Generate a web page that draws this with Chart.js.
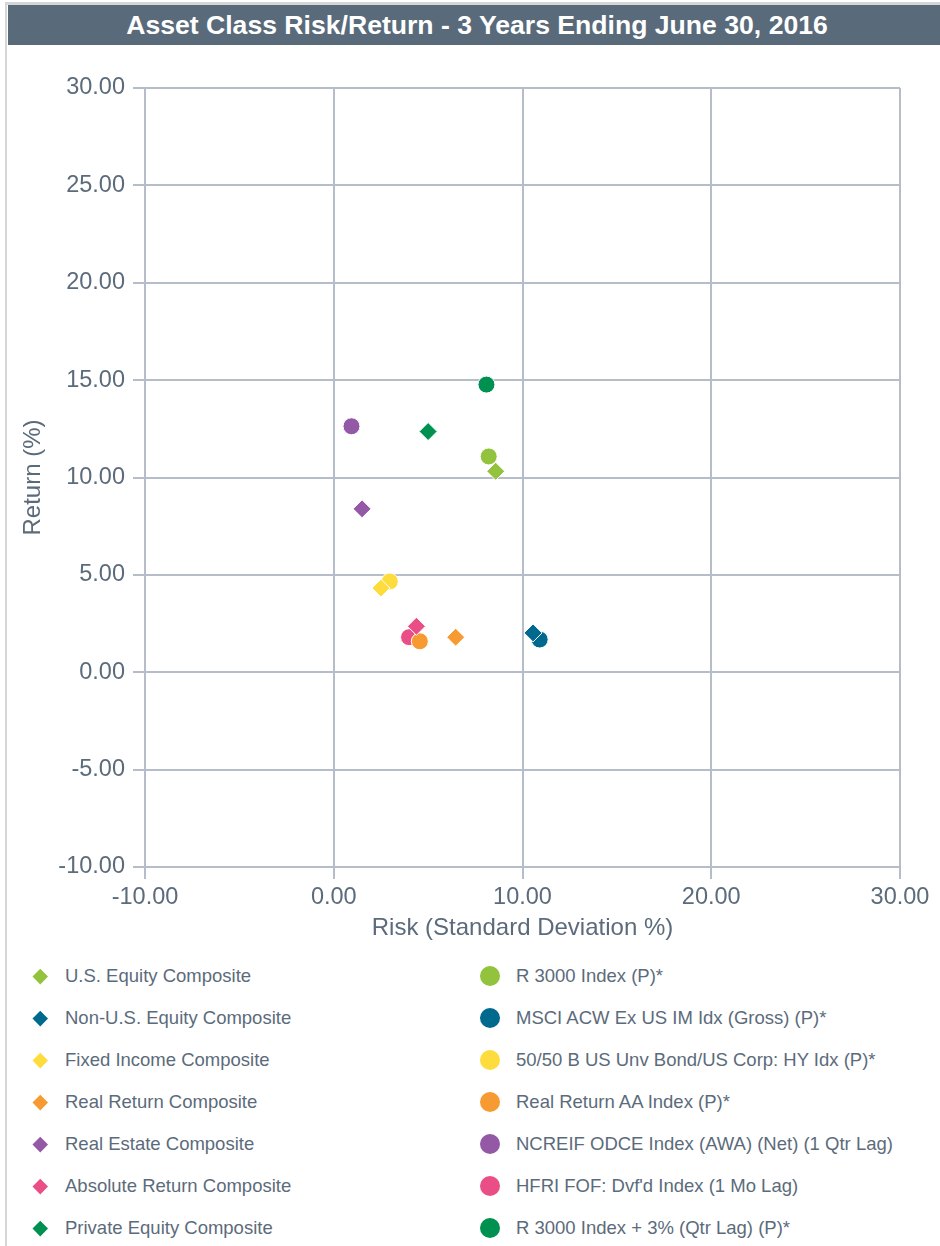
<!DOCTYPE html>
<html>
<head>
<meta charset="utf-8">
<script src="https://cdn.jsdelivr.net/npm/chart.js@4/dist/chart.umd.min.js"></script>
<style>
  html, body { margin: 0; padding: 0; background: #fff; }
  body { width: 940px; height: 1246px; position: relative; overflow: hidden;
         font-family: "Liberation Sans", Arial, sans-serif; }
  #frame { position: absolute; left: 5px; top: 2px; right: 0; bottom: 0;
           border-left: 2px solid #d6d6d6; border-top: 3px solid #d6d6d6; }
  #title { position: absolute; left: 8px; top: 5px; width: 926px; height: 40px; padding-left: 6px;
           background: #596a7b; color: #fff; font-weight: bold; font-size: 26.6px;
           line-height: 40px; text-align: center; }
  #box { position: absolute; left: 8px; top: 46px; width: 932px; height: 905px; }
  .item { position: absolute; height: 24px; line-height: 24px; font-size: 18.5px; color: #5b6b7b; white-space: nowrap; }
  .dia { position: absolute; width: 10.5px; height: 10.5px; transform: rotate(45deg); }
  .dot { position: absolute; width: 20px; height: 20px; border-radius: 50%; }
</style>
</head>
<body>
<div id="frame"></div>
<div id="title">Asset Class Risk/Return - 3 Years Ending June 30, 2016</div>
<div id="box"><canvas id="riskChart"></canvas></div>
<div id="legend"></div>
<script>
// composites (diamonds) and benchmark indices (circles)
const compositeNames = ['U.S. Equity Composite', 'Non-U.S. Equity Composite', 'Fixed Income Composite',
  'Real Return Composite', 'Real Estate Composite', 'Absolute Return Composite', 'Private Equity Composite'];
const compositeRisk = [8.58, 10.56, 2.50, 6.46, 1.50, 4.38, 5.00];
const compositeReturn = [10.32, 2.02, 4.32, 1.80, 8.39, 2.36, 12.36];

const indexNames = ['R 3000 Index (P)*', 'MSCI ACW Ex US IM Idx (Gross) (P)*', '50/50 B US Unv Bond/US Corp: HY Idx (P)*',
  'Real Return AA Index (P)*', 'NCREIF ODCE Index (AWA) (Net) (1 Qtr Lag)', 'HFRI FOF: Dvf\'d Index (1 Mo Lag)',
  'R 3000 Index + 3% (Qtr Lag) (P)*'];
const indexRisk = [8.21, 10.91, 2.97, 4.56, 0.94, 3.99, 8.09];
const indexReturn = [11.08, 1.68, 4.66, 1.59, 12.63, 1.80, 14.77];

const colors = ['#93c23d', '#006a8e', '#fedc3d', '#f89a32', '#9358a6', '#e94f86', '#00904f'];

const xTicks = [-10, 0, 10, 20, 30];
const yTicks = [-10, -5, 0, 5, 10, 15, 20, 25, 30];

const textColor = '#5b6b7b';
const gridColor = '#b5bec8';

let datasets = [];
compositeNames.forEach((name, i) => {
    datasets.push({
        label: name,
        data: [{ x: compositeRisk[i], y: compositeReturn[i] }],
        pointStyle: 'rectRot',
        backgroundColor: colors[i],
        borderColor: '#fff',
        borderWidth: 1,
        pointRadius: 9
    });
});
indexNames.forEach((name, i) => {
    datasets.push({
        label: name,
        data: [{ x: indexRisk[i], y: indexReturn[i] }],
        pointStyle: 'circle',
        backgroundColor: colors[i],
        borderColor: '#fff',
        borderWidth: 1,
        pointRadius: 8.5
    });
});

let ctx = document.getElementById('riskChart').getContext('2d');
let riskChart = new Chart(ctx, {
    type: 'scatter',
    data: { datasets: datasets },
    options: {
        responsive: true,
        maintainAspectRatio: false,
        animation: false,
        layout: { padding: { top: 42, right: 40, left: 0, bottom: 0 } },
        plugins: { legend: { display: false }, tooltip: { enabled: false } },
        scales: {
            x: {
                type: 'linear',
                min: xTicks[0],
                max: xTicks[xTicks.length - 1],
                afterBuildTicks: (s) => { s.ticks = xTicks.map(v => ({ value: v })); },
                afterFit: (s) => { s.height = 84; },
                grid: { color: gridColor, lineWidth: 2, tickLength: 12 },
                border: { color: gridColor, width: 2 },
                ticks: {
                    color: textColor, padding: 4,
                    font: { family: 'Liberation Sans', size: 23.5 },
                    callback: v => v.toFixed(2)
                },
                title: {
                    display: true, text: 'Risk (Standard Deviation %)', color: textColor,
                    font: { family: 'Liberation Sans', size: 24 },
                    padding: { top: 0, bottom: 8 }
                }
            },
            y: {
                type: 'linear',
                min: yTicks[0],
                max: yTicks[yTicks.length - 1],
                afterBuildTicks: (s) => { s.ticks = yTicks.map(v => ({ value: v })); },
                afterFit: (s) => { s.width = 137; },
                grid: { color: gridColor, lineWidth: 2, tickLength: 12 },
                border: { color: gridColor, width: 2 },
                ticks: {
                    color: textColor, padding: 8,
                    font: { family: 'Liberation Sans', size: 23.5 },
                    callback: v => v.toFixed(2)
                },
                title: {
                    display: true, text: 'Return (%)', color: textColor,
                    font: { family: 'Liberation Sans', size: 24 },
                    padding: { top: 11, bottom: 0 }
                }
            }
        }
    }
});

// two-column legend built from the chart's datasets
const legend = document.getElementById('legend');
riskChart.data.datasets.forEach((ds, i) => {
    const col = i < compositeNames.length ? 0 : 1;
    const row = col === 0 ? i : i - compositeNames.length;
    const cy = 976 + row * 42;
    const mark = document.createElement('div');
    mark.className = col === 0 ? 'dia' : 'dot';
    mark.style.background = ds.backgroundColor;
    if (col === 0) {
        mark.style.left = (40 - 5.25) + 'px';
        mark.style.top = (cy - 5.25) + 'px';
    } else {
        mark.style.left = (490 - 10) + 'px';
        mark.style.top = (cy - 10) + 'px';
    }
    legend.appendChild(mark);
    const txt = document.createElement('div');
    txt.className = 'item';
    txt.textContent = ds.label;
    txt.style.left = (col === 0 ? 65 : 516) + 'px';
    txt.style.top = (cy - 12) + 'px';
    legend.appendChild(txt);
});
</script>
</body>
</html>
